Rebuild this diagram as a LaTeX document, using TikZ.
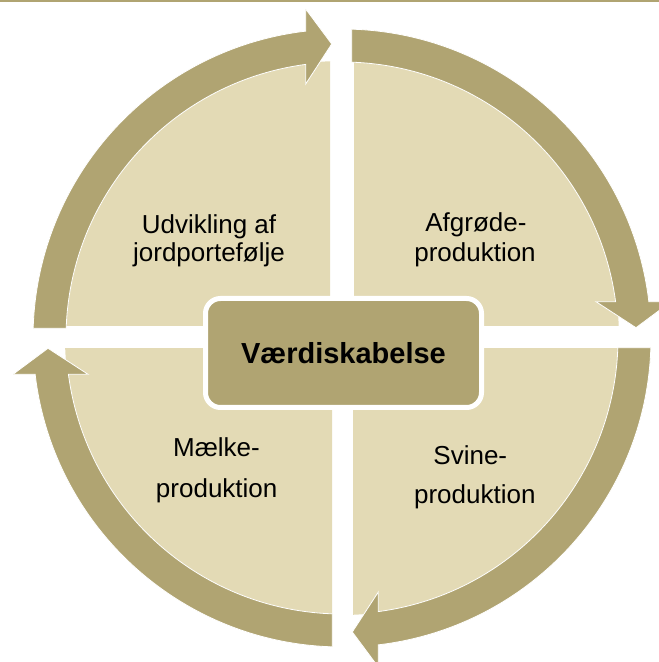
\documentclass[tikz,border=0pt]{standalone}
\usepackage{fontspec}
\setmainfont{Liberation Sans}
\definecolor{ringc}{RGB}{176,164,114}
\definecolor{quadc}{RGB}{227,218,181}
\begin{document}
\begin{tikzpicture}[x=1pt,y=1pt,
  quad/.style={fill=quadc},
  cyclearrow/.style={fill=ringc,draw=white,line width=0.8pt,line join=miter},
  lbl/.style={anchor=base,inner sep=0pt,text=black,font=\fontsize{26}{31}\selectfont},
  corebox/.style={rectangle,rounded corners=15pt,fill=ringc,draw=white,line width=5pt,
    minimum width=276pt,minimum height=109pt,inner sep=0pt,text=black,
    font=\bfseries\fontsize{29}{34}\selectfont}]
\useasboundingbox (0,0) rectangle (659,662);
\clip (0,0) rectangle (659,662);
% top rule
\fill[ringc] (0,660) rectangle (659,662);
\coordinate (C) at (342,324);
% quadrants
\begin{scope}
  \clip (0,336) rectangle (330,662);
  \fill[quad] (C) circle (277pt);
\end{scope}
\begin{scope}
  \clip (354,336) rectangle (659,662);
  \fill[quad] (C) circle (277pt);
\end{scope}
\begin{scope}
  \clip (0,0) rectangle (332,313);
  \fill[quad] (C) circle (277pt);
\end{scope}
\begin{scope}
  \clip (353,0) rectangle (659,313);
  \fill[quad] (C) circle (277pt);
\end{scope}
% circular arrows
\foreach \r in {0,-90,-180,-270} {
  \filldraw[cyclearrow,shift={(C)},rotate=\r]
    (178.2:309pt) arc[start angle=178.2,end angle=96.75,radius=309pt]
    -- (-36.3,329) -- (-10.3,294) -- (-36.3,254)
    -- (97.56:276pt) arc[start angle=97.56,end angle=177.99,radius=276pt] -- cycle;
}
% centre
\node[corebox] (core) at (343.5,309) {Værdiskabelse};
% labels
\node[lbl] (tl1) at (209,428.7) {Udvikling af};
\node[lbl] (tl2) at (209,400.3) {jordportefølje};
\node[lbl] (tr1) at (475.9,430.3) {Afgrøde-};
\node[lbl] (tr2) at (475,400.3) {produktion};
\node[lbl] (bl1) at (216.5,205) {Mælke-};
\node[lbl] (bl2) at (216.7,164) {produktion};
\node[lbl] (br1) at (470.3,197) {Svine-};
\node[lbl] (br2) at (474.8,158.7) {produktion};
\end{tikzpicture}
\end{document}
